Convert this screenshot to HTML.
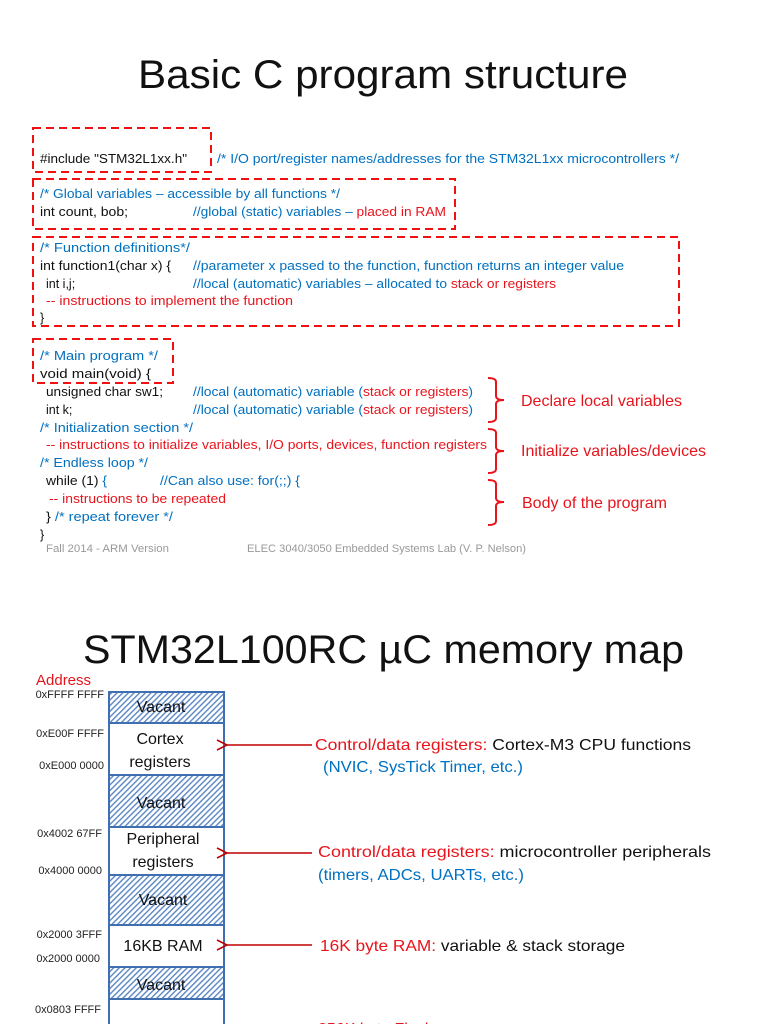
<!DOCTYPE html>
<html><head><meta charset="utf-8"><style>
html,body{margin:0;padding:0;background:#fff;}
svg{display:block;}
text{font-family:"Liberation Sans",sans-serif;}
.c{font-size:12.5px;fill:#111;}
.b{fill:#0070c0;}
.r{fill:#e8141c;}
.k{fill:#111;}
</style></head><body>
<svg width="768" height="1024" viewBox="0 0 768 1024" xmlns="http://www.w3.org/2000/svg">
<defs>
<pattern id="h" patternUnits="userSpaceOnUse" width="4" height="4" patternTransform="rotate(45)">
<rect width="4" height="4" fill="#fff"/><rect width="1.4" height="4" fill="#5a86c4"/>
</pattern>
<marker id="a" markerWidth="14" markerHeight="14" refX="1" refY="7" orient="auto" markerUnits="userSpaceOnUse">
<path d="M11,2 L1,7 L11,12" fill="none" stroke="#c00000" stroke-width="1.6"/>
</marker>
</defs>

<text x="138" y="88" font-size="40" fill="#111" textLength="490" lengthAdjust="spacingAndGlyphs">Basic C program structure</text>

<g fill="none" stroke="#f01010" stroke-width="2" stroke-dasharray="8,5">
<rect x="33" y="128" width="178" height="44"/>
<rect x="33" y="179" width="422" height="50"/>
<rect x="33" y="237" width="646" height="89"/>
<rect x="33" y="339" width="140" height="44"/>
</g>

<g class="c">
<text x="40" y="163" textLength="147" lengthAdjust="spacingAndGlyphs">#include "STM32L1xx.h"</text>
<text x="217" y="163" class="b" textLength="462" lengthAdjust="spacingAndGlyphs">/* I/O port/register names/addresses for the STM32L1xx microcontrollers */</text>
<text x="40" y="198" class="b" textLength="300" lengthAdjust="spacingAndGlyphs">/* Global variables – accessible by all functions */</text>
<text x="40" y="216" textLength="88" lengthAdjust="spacingAndGlyphs">int count, bob;</text>
<text x="193" y="216" textLength="253" lengthAdjust="spacingAndGlyphs"><tspan class="b">//global (static) variables – </tspan><tspan class="r">placed in RAM</tspan></text>
<text x="40" y="252" class="b" textLength="150" lengthAdjust="spacingAndGlyphs">/* Function definitions*/</text>
<text x="40" y="270" textLength="131" lengthAdjust="spacingAndGlyphs">int function1(char x) {</text>
<text x="193" y="270" class="b" textLength="431" lengthAdjust="spacingAndGlyphs">//parameter x passed to the function, function returns an integer value</text>
<text x="46" y="288">int i,j;</text>
<text x="193" y="288" textLength="363" lengthAdjust="spacingAndGlyphs"><tspan class="b">//local (automatic) variables – allocated to </tspan><tspan class="r">stack or registers</tspan></text>
<text x="46" y="305" class="r" textLength="247" lengthAdjust="spacingAndGlyphs">-- instructions to implement the function</text>
<text x="40" y="322">}</text>
<text x="40" y="360" class="b" textLength="118" lengthAdjust="spacingAndGlyphs">/* Main program */</text>
<text x="40" y="378" textLength="111" lengthAdjust="spacingAndGlyphs">void main(void) {</text>
<text x="46" y="396" textLength="117" lengthAdjust="spacingAndGlyphs">unsigned char sw1;</text>
<text x="193" y="396" textLength="280" lengthAdjust="spacingAndGlyphs"><tspan class="b">//local (automatic) variable (</tspan><tspan class="r">stack or registers</tspan><tspan class="b">)</tspan></text>
<text x="46" y="414">int k;</text>
<text x="193" y="414" textLength="280" lengthAdjust="spacingAndGlyphs"><tspan class="b">//local (automatic) variable (</tspan><tspan class="r">stack or registers</tspan><tspan class="b">)</tspan></text>
<text x="40" y="432" class="b" textLength="153" lengthAdjust="spacingAndGlyphs">/* Initialization section */</text>
<text x="46" y="449" class="r" textLength="441" lengthAdjust="spacingAndGlyphs">-- instructions to initialize  variables, I/O ports, devices, function registers</text>
<text x="40" y="467" class="b" textLength="108" lengthAdjust="spacingAndGlyphs">/* Endless loop */</text>
<text x="46" y="485" textLength="61" lengthAdjust="spacingAndGlyphs">while (1) <tspan class="b">{</tspan></text>
<text x="160" y="485" class="b" textLength="140" lengthAdjust="spacingAndGlyphs">//Can also use:  for(;;) {</text>
<text x="49" y="503" class="r" textLength="177" lengthAdjust="spacingAndGlyphs">-- instructions to be repeated</text>
<text x="46" y="521" textLength="127" lengthAdjust="spacingAndGlyphs">} <tspan class="b">/* repeat forever */</tspan></text>
<text x="40" y="539">}</text>
<text x="46" y="552" font-size="11" fill="#999" textLength="123" lengthAdjust="spacingAndGlyphs">Fall 2014 - ARM Version</text>
<text x="247" y="552" font-size="11" fill="#999" textLength="279" lengthAdjust="spacingAndGlyphs">ELEC 3040/3050 Embedded Systems Lab (V. P. Nelson)</text>
</g>

<g fill="none" stroke="#e8141c" stroke-width="2">
<path d="M488,378 Q496,378 496,382 L496,396 Q496,400 504,400 Q496,400 496,404 L496,418 Q496,422 488,422"/>
<path d="M488,429 Q496,429 496,433 L496,447 Q496,451 504,451 Q496,451 496,455 L496,469 Q496,473 488,473"/>
<path d="M488,480 Q496,480 496,484 L496,498 Q496,502 504,502 Q496,502 496,506 L496,521 Q496,525 488,525"/>
</g>
<g font-size="16" fill="#e8141c">
<text x="521" y="406">Declare local variables</text>
<text x="521" y="456">Initialize variables/devices</text>
<text x="522" y="508">Body of the program</text>
</g>

<text x="83" y="663" font-size="40" fill="#111" textLength="601" lengthAdjust="spacingAndGlyphs">STM32L100RC µC memory map</text>

<text x="36" y="685" font-size="15" fill="#e8141c">Address</text>

<g stroke="#3f6fb0" stroke-width="2">
<rect x="109" y="692" width="115" height="31" fill="url(#h)"/>
<rect x="109" y="723" width="115" height="52" fill="#fff"/>
<rect x="109" y="775" width="115" height="52" fill="url(#h)"/>
<rect x="109" y="827" width="115" height="48" fill="#fff"/>
<rect x="109" y="875" width="115" height="50" fill="url(#h)"/>
<rect x="109" y="925" width="115" height="42" fill="#fff"/>
<rect x="109" y="967" width="115" height="32" fill="url(#h)"/>
<rect x="109" y="999" width="115" height="40" fill="#fff"/>
</g>
<g font-size="16" fill="#111" text-anchor="middle">
<text x="161" y="712">Vacant</text>
<text x="160" y="744">Cortex</text>
<text x="160" y="767">registers</text>
<text x="161" y="808">Vacant</text>
<text x="163" y="844">Peripheral</text>
<text x="163" y="867">registers</text>
<text x="163" y="905">Vacant</text>
<text x="163" y="951">16KB RAM</text>
<text x="161" y="990">Vacant</text>
</g>
<g font-size="11" fill="#222" text-anchor="end">
<text x="104" y="698">0xFFFF FFFF</text>
<text x="104" y="737">0xE00F FFFF</text>
<text x="104" y="769">0xE000 0000</text>
<text x="102" y="837">0x4002 67FF</text>
<text x="102" y="874">0x4000 0000</text>
<text x="102" y="938">0x2000 3FFF</text>
<text x="100" y="962">0x2000 0000</text>
<text x="101" y="1013">0x0803 FFFF</text>
</g>

<g stroke="#c00000" stroke-width="1.5" fill="none">
<line x1="312" y1="745" x2="227" y2="745" marker-end="url(#a)"/>
<line x1="312" y1="853" x2="227" y2="853" marker-end="url(#a)"/>
<line x1="312" y1="945" x2="227" y2="945" marker-end="url(#a)"/>
</g>
<g font-size="16">
<text x="315" y="750" textLength="376" lengthAdjust="spacingAndGlyphs"><tspan fill="#e8141c">Control/data registers: </tspan><tspan fill="#111">Cortex-M3 CPU functions</tspan></text>
<text x="323" y="772" fill="#0070c0" textLength="200" lengthAdjust="spacingAndGlyphs">(NVIC, SysTick Timer, etc.)</text>
<text x="318" y="857" textLength="393" lengthAdjust="spacingAndGlyphs"><tspan fill="#e8141c">Control/data registers: </tspan><tspan fill="#111">microcontroller peripherals</tspan></text>
<text x="318" y="880" fill="#0070c0" textLength="206" lengthAdjust="spacingAndGlyphs">(timers, ADCs, UARTs, etc.)</text>
<text x="320" y="951" textLength="305" lengthAdjust="spacingAndGlyphs"><tspan fill="#e8141c">16K byte RAM: </tspan><tspan fill="#111">variable &amp; stack storage</tspan></text>
<text x="318" y="1034" fill="#e8141c">256K byte Flash memory:</text>
</g>
</svg>
</body></html>
